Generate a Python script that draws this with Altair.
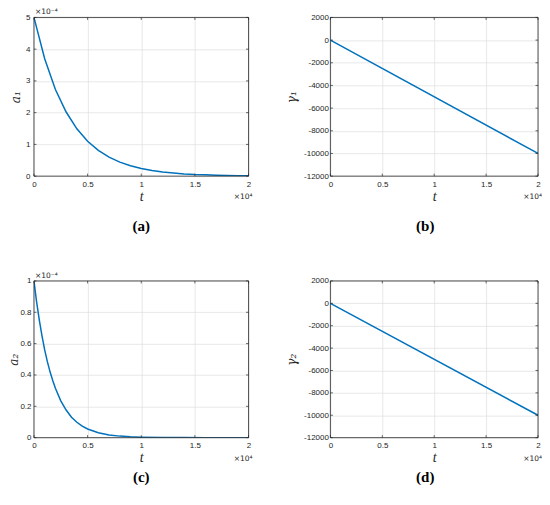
import altair as alt
import pandas as pd

# t in units of 10^4
t_a1 = [0, 0.1, 0.2, 0.3, 0.4, 0.5, 0.6, 0.7, 0.8, 0.9, 1.0, 1.1, 1.2, 1.3, 1.4, 1.5, 1.6, 1.7, 1.8, 1.9, 2.0]
# a1 in units of 10^-4
a1_vals = [5.00, 3.70, 2.73, 2.02, 1.49, 1.10, 0.81, 0.60, 0.44, 0.33, 0.24, 0.18, 0.13, 0.10, 0.07, 0.05, 0.04, 0.03, 0.02, 0.015, 0.01]

t_a2 = [0, 0.025, 0.05, 0.075, 0.1, 0.125, 0.15, 0.175, 0.2, 0.25, 0.3, 0.35, 0.4, 0.45, 0.5,
        0.6, 0.7, 0.8, 0.9, 1.0, 1.2, 1.4, 1.6, 1.8, 2.0]
a2_vals = [1.0, 0.865, 0.75, 0.65, 0.56, 0.485, 0.42, 0.365, 0.315, 0.235, 0.176, 0.13, 0.098, 0.073, 0.055,
           0.031, 0.017, 0.0097, 0.0054, 0.003, 0.001, 0.0003, 0.0001, 0.00003, 0.00001]

t_g = [0, 2.0]
g1_vals = [0, -10000]
g2_vals = [0, -10000]

x_ticks = [0, 0.5, 1, 1.5, 2]
a1_ticks = [0, 1, 2, 3, 4, 5]
a2_ticks = [0, 0.2, 0.4, 0.6, 0.8, 1]
g_ticks = [-12000, -10000, -8000, -6000, -4000, -2000, 0, 2000]

BLUE = "#0072BD"
DARK = "#262626"
SANS = "Liberation Sans"
SERIF = "Liberation Serif"


def panel(t, vals, ydomain, yticks, ytitle, caption, width, height, exp_top=None,
          title_x=-13, label_pad=4, cap_dx=0, cap_offset=16):
    df = pd.DataFrame({"t": t, "v": vals})
    xs = alt.Scale(domain=[0, 2], nice=False)
    ys = alt.Scale(domain=ydomain, nice=False, zero=False)
    x_axis = alt.Axis(values=x_ticks, labelExpr="'' + datum.value", title="t",
                      titleFontStyle="italic", titleFont=SERIF, titleFontSize=14,
                      titleFontWeight="normal", titleColor=DARK, titlePadding=1,
                      labelFont=SANS, labelFontSize=8, labelColor=DARK, labelPadding=4,
                      labelOverlap=False, ticks=False, domain=False, grid=True,
                      gridColor="#dedede", gridWidth=0.7, labelFlush=False)
    y_axis = alt.Axis(values=yticks, labelExpr="'' + datum.value", title=ytitle,
                      titleFontStyle="italic", titleFont="DejaVu Serif", titleFontSize=12,
                      titleFontWeight="normal", titleColor=DARK, titleX=title_x,
                      labelFont=SANS, labelFontSize=8, labelColor=DARK, labelPadding=label_pad,
                      labelOverlap=False, ticks=False, domain=False, grid=True,
                      gridColor="#dedede", gridWidth=0.7, labelFlush=False)
    line = alt.Chart(df).mark_line(color=BLUE, strokeWidth=1.5, clip=True).encode(
        x=alt.X("t:Q", scale=xs, axis=x_axis),
        y=alt.Y("v:Q", scale=ys, axis=y_axis),
    )
    xt = pd.DataFrame({"t": x_ticks})
    yt = pd.DataFrame({"v": yticks})
    tick_style = dict(color=DARK, strokeWidth=0.7)
    xt_bot = alt.Chart(xt).mark_rule(**tick_style).encode(
        x=alt.X("t:Q", scale=xs, axis=x_axis), y=alt.value(height), y2=alt.value(height - 2.5))
    xt_top = alt.Chart(xt).mark_rule(**tick_style).encode(
        x=alt.X("t:Q", scale=xs, axis=x_axis), y=alt.value(0), y2=alt.value(2.5))
    yt_left = alt.Chart(yt).mark_rule(**tick_style).encode(
        y=alt.Y("v:Q", scale=ys, axis=y_axis), x=alt.value(0), x2=alt.value(2.5))
    yt_right = alt.Chart(yt).mark_rule(**tick_style).encode(
        y=alt.Y("v:Q", scale=ys, axis=y_axis), x=alt.value(width), x2=alt.value(width - 2.5))
    frame = alt.Chart(pd.DataFrame({"f": [1]})).mark_rect(
        fillOpacity=0, stroke=DARK, strokeWidth=0.8
    ).encode(x=alt.value(0), x2=alt.value(width), y=alt.value(0), y2=alt.value(height))
    layers = [line, xt_bot, xt_top, yt_left, yt_right, frame]
    xexp = alt.Chart(pd.DataFrame({"s": ["×10⁴"]})).mark_text(
        font="DejaVu Sans", fontSize=7.5, color=DARK, align="right", baseline="top"
    ).encode(x=alt.value(width + 4), y=alt.value(height + 17), text="s:N")
    layers.append(xexp)
    if exp_top:
        yexp = alt.Chart(pd.DataFrame({"s": [exp_top]})).mark_text(
            font="DejaVu Sans", fontSize=7.5, color=DARK, align="left", baseline="bottom"
        ).encode(x=alt.value(1), y=alt.value(-1), text="s:N")
        layers.append(yexp)
    return alt.layer(*layers).resolve_scale(x="shared", y="shared").properties(
        width=width, height=height,
        title=alt.TitleParams(caption, orient="bottom", font=SERIF, fontSize=15,
                              fontWeight="bold", color="#000000", anchor="middle",
                              frame="group", offset=cap_offset, dx=cap_dx),
    )


pa = panel(t_a1, a1_vals, [0, 5], a1_ticks, "a₁", "(a)", 215, 159, exp_top="×10⁻⁴",
           title_x=-11, label_pad=4, cap_dx=0, cap_offset=16)
pb = panel(t_g, g1_vals, [-12000, 2000], g_ticks, "γ₁", "(b)", 208, 159,
           title_x=-32, label_pad=2, cap_dx=-9, cap_offset=16)
pc = panel(t_a2, a2_vals, [0, 1], a2_ticks, "a₂", "(c)", 215, 157, exp_top="×10⁻⁴",
           title_x=-13, label_pad=3, cap_dx=0, cap_offset=5)
pd_ = panel(t_g, g2_vals, [-12000, 2000], g_ticks, "γ₂", "(d)", 208, 157,
            title_x=-32, label_pad=2, cap_dx=-9, cap_offset=5)

chart = alt.concat(pa, pb, pc, pd_, columns=2, spacing={"row": 105, "column": 82},
                   bounds="flush").properties(padding=0).configure(
    background="white", padding=0
).configure_view(stroke=None)

chart.save("out.html", embed_options={"renderer": "svg", "actions": False})
